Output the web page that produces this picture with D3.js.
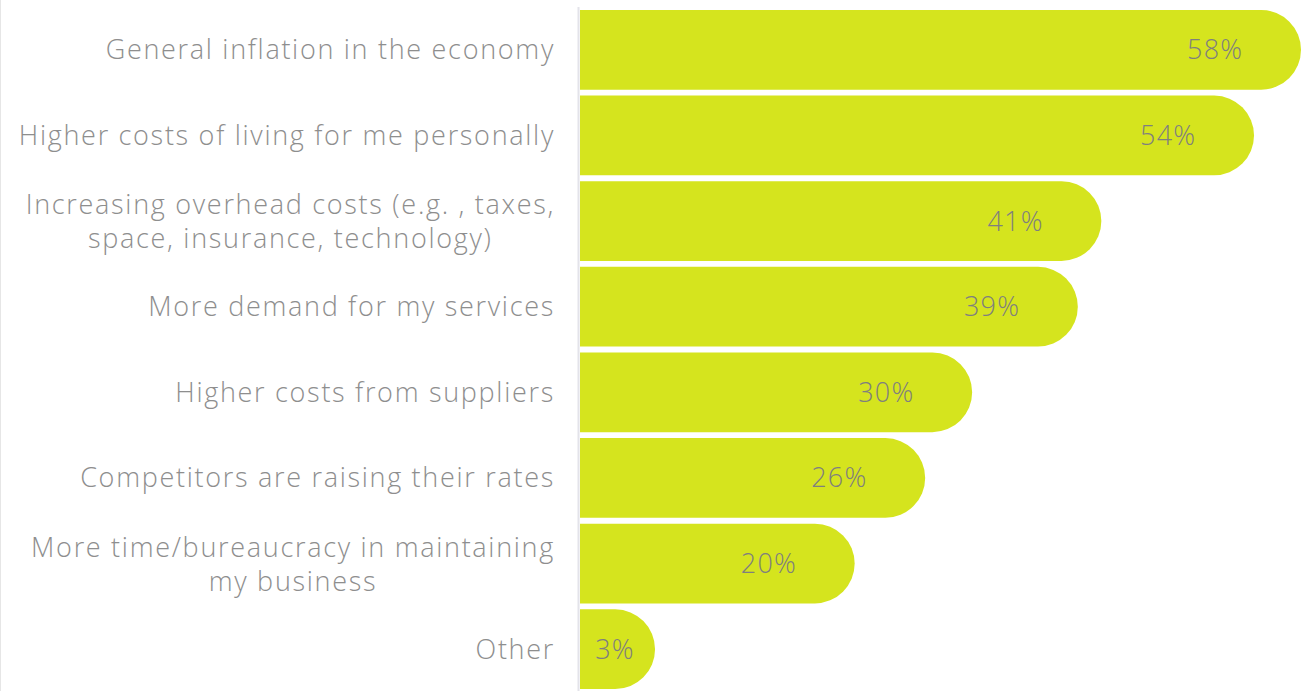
<!DOCTYPE html>
<html>
<head>
<meta charset="utf-8">
<script src="https://cdn.jsdelivr.net/npm/d3@7"></script>
<style>
  html, body { margin: 0; padding: 0; background: #ffffff; }
  svg { display: block; }
</style>
</head>
<body>
<svg id="chart" width="1301" height="691"></svg>
<script>
// Reasons for raising rates, share of respondents
const categories = [
  "General inflation in the economy",
  "Higher costs of living for me personally",
  "Increasing overhead costs (e.g. , taxes,\nspace, insurance, technology)",
  "More demand for my services",
  "Higher costs from suppliers",
  "Competitors are raising their rates",
  "More time/bureaucracy in maintaining\nmy business",
  "Other"
];
const values = [58, 54, 41, 39, 30, 26, 20, 3];
const valueLabels = ["58%", "54%", "41%", "39%", "30%", "26%", "20%", "3%"];

const W = 1301, H = 691;
const x0 = 580;
const svg = d3.select("#chart");

const y = d3.scaleBand()
  .domain(categories)
  .range([7, 692])
  .paddingInner(0.07)
  .paddingOuter(0.035);

const r = y.bandwidth() / 2;

const x = d3.scaleLinear()
  .domain([0, d3.max(values)])
  .range([x0, W - r]);

const data = categories.map((c, i) => ({ c, v: values[i], label: valueLabels[i] }));

// faint frame edge on the left
svg.append("line")
  .attr("x1", 0.5).attr("x2", 0.5).attr("y1", 0).attr("y2", H)
  .attr("stroke", "#e6e6e6").attr("stroke-width", 1);

// bars: flat left end, round cap on the right
svg.append("g").selectAll("path")
  .data(data)
  .join("path")
  .attr("fill", "#d5e41e")
  .attr("d", d => {
    const top = y(d.c), h = y.bandwidth(), xe = x(d.v);
    return `M${x0},${top}H${xe}A${r},${r} 0 0 1 ${xe},${top + h}H${x0}Z`;
  });

// baseline
svg.append("line")
  .attr("x1", 578.5).attr("x2", 578.5).attr("y1", 7).attr("y2", H)
  .attr("stroke", "#e3e3ea").attr("stroke-width", 2);

// category labels, multi-line ones centred as a block
const labelFont = "'Open Sans', sans-serif";
const labelRight = 555;
const lg = svg.append("g")
  .attr("font-family", labelFont)
  .attr("font-size", 27)
  .attr("font-weight", 300)
  .attr("letter-spacing", "1.7px")
  .attr("fill", "#8e8e8e");

data.forEach(d => {
  const lines = d.c.split("\n");
  const cy = y(d.c) + y.bandwidth() / 2 - 1;
  const lh = 34;
  const t = lg.append("text").attr("dominant-baseline", "central");
  if (lines.length === 1) {
    t.attr("x", labelRight).attr("y", cy).attr("text-anchor", "end").text(lines[0]);
  } else {
    // measure the widest line to centre the block against the right edge
    const probe = lg.append("text").text(lines[0]);
    const widths = lines.map(l => { probe.text(l); return probe.node().getComputedTextLength(); });
    probe.remove();
    const wmax = d3.max(widths);
    const cx = labelRight - wmax / 2;
    t.attr("text-anchor", "middle");
    lines.forEach((l, i) => {
      t.append("tspan")
        .attr("x", cx)
        .attr("y", cy + (i - (lines.length - 1) / 2) * lh)
        .text(l);
    });
  }
});

// value labels inside the bars
svg.append("g")
  .attr("font-family", labelFont)
  .attr("font-size", 27)
  .attr("font-weight", 300)
  .attr("letter-spacing", "1.2px")
  .attr("fill", "#7f7f7f")
  .attr("text-anchor", "middle")
  .selectAll("text")
  .data(data)
  .join("text")
  .attr("x", d => Math.max(x(d.v) - 46, x0 + 35))
  .attr("y", d => y(d.c) + y.bandwidth() / 2 - 1)
  .attr("dominant-baseline", "central")
  .text(d => d.label);
</script>
</body>
</html>
